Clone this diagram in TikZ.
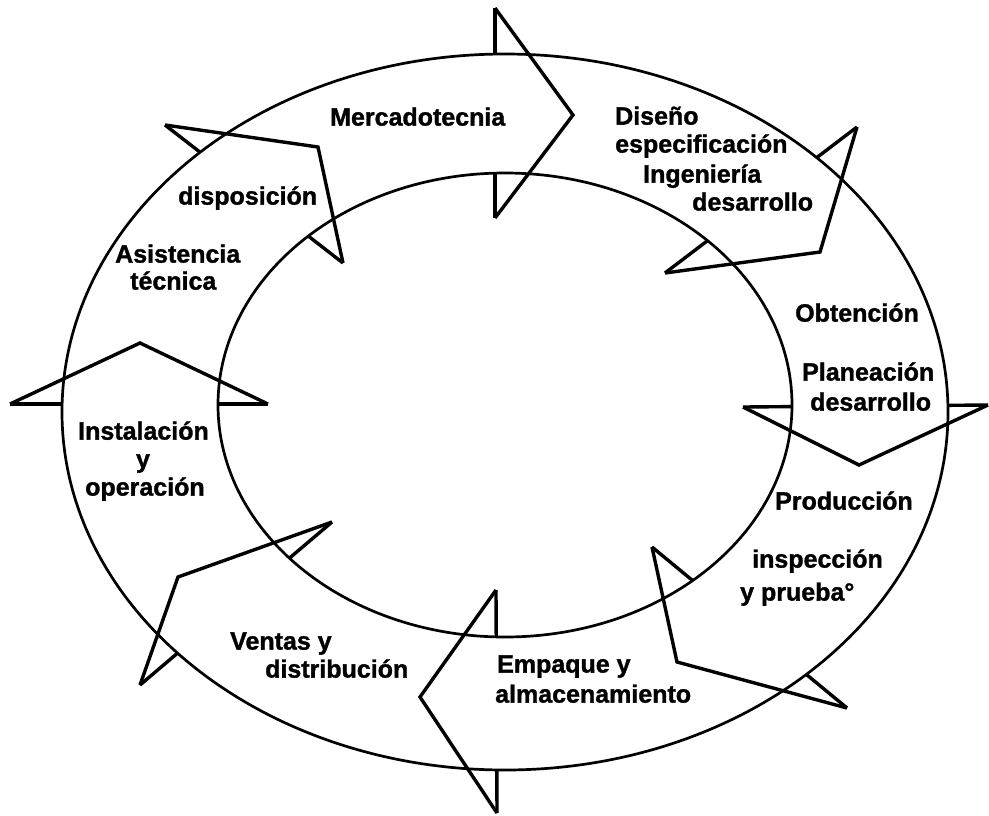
\documentclass[tikz,border=0pt]{standalone}
\usepackage{fontspec}
\setmainfont{Liberation Sans}
\newfontfamily\lblfamily{Liberation Sans}[BoldFeatures={FakeBold=1.3}]
\begin{document}
\begin{tikzpicture}[x=1pt,y=-1pt,
  ring/.style={line width=2.7pt},
  arrowline/.style={line width=3.4pt, line join=miter},
  lbl/.style={inner sep=0pt, text height=0.72em, text depth=0.2em, anchor=west,
    font=\lblfamily\fontsize{25}{30}\selectfont\bfseries}]
\useasboundingbox[fill=white] (0,0) rectangle (989,815);
% rings
\draw[ring] (505,412) ellipse [x radius=443, y radius=358];
\draw[ring] (505,405) ellipse [x radius=287, y radius=232];
% arrow heads (slanted sides)
\draw[arrowline] (495,8) -- (573,115) -- (495,218);
\draw[arrowline] (857,127) -- (820,252) -- (665,273);
\draw[arrowline] (988,405) -- (859,465) -- (743,407);
\draw[arrowline] (847,708) -- (677,662) -- (652,547);
\draw[arrowline] (497,813) -- (420,697) -- (496,590);
\draw[arrowline] (332,522) -- (178,577) -- (140,685);
\draw[arrowline] (10,404) -- (140,343) -- (268,404);
\draw[arrowline] (165,125) -- (318,147) -- (343,263);
% arrow bases, only outside the band
\begin{scope}[even odd rule]
\clip (0,0) rectangle (989,815)
  (505,412) ellipse [x radius=443, y radius=358]
  (505,405) ellipse [x radius=287, y radius=232];
\draw[arrowline] (495,8) -- (495,218);
\draw[arrowline] (857,127) -- (665,273);
\draw[arrowline] (988,405) -- (743,407);
\draw[arrowline] (847,708) -- (652,547);
\draw[arrowline] (497,813) -- (496,590);
\draw[arrowline] (332,522) -- (140,685);
\draw[arrowline] (10,404) -- (268,404);
\draw[arrowline] (165,125) -- (343,263);
\end{scope}
% labels
\node[lbl] (merc) at (330,123) {Mercadotecnia};
\node[lbl] (dis1) at (615,122) {Diseño};
\node[lbl] (dis2) at (615,150) {especificación};
\node[lbl] (dis3) at (643,180) {Ingeniería};
\node[lbl] (dis4) at (692,208) {desarrollo};
\node[lbl] (obt) at (795,319) {Obtención};
\node[lbl] (pla1) at (802,378) {Planeación};
\node[lbl] (pla2) at (810,408) {desarrollo};
\node[lbl] (prod) at (775,507) {Producción};
\node[lbl] (ins1) at (752,565) {inspección};
\node[lbl] (ins2) at (740,598) {y prueba°};
\node[lbl] (emp1) at (497,670) {Empaque y};
\node[lbl] (emp2) at (495,700) {almacenamiento};
\node[lbl] (ven1) at (230,647) {Ventas y};
\node[lbl] (ven2) at (265,675) {distribución};
\node[lbl] (inst1) at (78,437) {Instalación};
\node[lbl, anchor=center] (inst2) at (143,465) {y};
\node[lbl] (inst3) at (85,493) {operación};
\node[lbl] (disp) at (178,202) {disposición};
\node[lbl] (asi1) at (115,260) {Asistencia};
\node[lbl] (asi2) at (130,287) {técnica};
\end{tikzpicture}
\end{document}
